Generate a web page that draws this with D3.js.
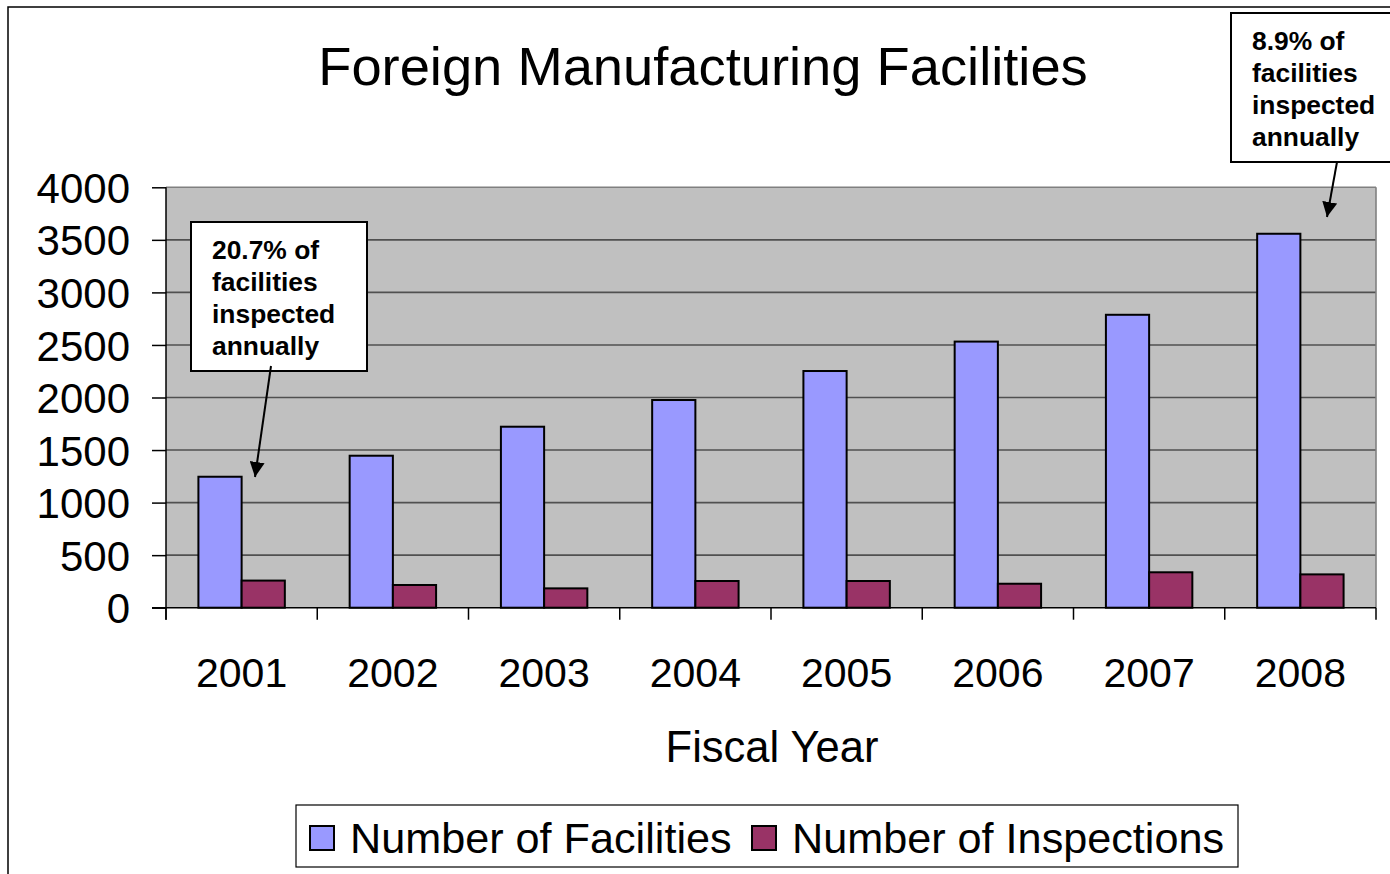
<!DOCTYPE html>
<html><head><meta charset="utf-8">
<script src="https://cdn.jsdelivr.net/npm/d3@7"></script>
<style>html,body{margin:0;padding:0;background:#fff;}svg{display:block;}</style>
</head><body>
<svg id="c" width="1390" height="874"></svg>
<script>
const categories = ["2001","2002","2003","2004","2005","2006","2007","2008"];
const facilities = [1246, 1446, 1722, 1976, 2252, 2532, 2787, 3558];
const inspections = [258, 216, 184, 254, 254, 228, 337, 317];
const seriesNames = ["Number of Facilities", "Number of Inspections"];
const seriesColors = ["#9999ff", "#993366"];
const yTicks = [0, 500, 1000, 1500, 2000, 2500, 3000, 3500, 4000];
const titleText = "Foreign Manufacturing Facilities";
const xTitle = "Fiscal Year";
const note1 = ["20.7% of", "facilities", "inspected", "annually"];
const note2 = ["8.9% of", "facilities", "inspected", "annually"];

const FONT = "'Liberation Sans', Arial, sans-serif";
const svg = d3.select("#c");
const L = 166, R = 1376, T = 187.3, B = 607.7;

svg.append("defs").append("marker")
  .attr("id","ah").attr("viewBox","0 0 10 10").attr("refX",10).attr("refY",5)
  .attr("markerWidth",7.5).attr("markerHeight",7.5).attr("markerUnits","strokeWidth")
  .attr("orient","auto")
  .append("path").attr("d","M0,0 L10,5 L0,10 z").attr("fill","#000");

// outer border
svg.append("rect").attr("x",8).attr("y",7).attr("width",1400).attr("height",900)
  .attr("fill","none").attr("stroke","#000").attr("stroke-width",1.5);

const x0 = d3.scaleBand().domain(categories).range([L, R]).paddingInner(0).paddingOuter(0);
const bw = x0.bandwidth();
const x1 = d3.scaleBand().domain(seriesNames).range([bw*0.75/3.5, bw*2.75/3.5]).padding(0);
const y = d3.scaleLinear().domain([0, 4000]).range([B, T]);

// plot background
svg.append("rect").attr("x",L).attr("y",T).attr("width",R-L).attr("height",B-T)
  .attr("fill","#c0c0c0");
// grid
svg.append("g").selectAll("line").data(yTicks.filter(d=>d>0)).join("line")
  .attr("x1",L).attr("x2",R).attr("y1",d=>y(d)).attr("y2",d=>y(d))
  .attr("stroke", d=> d===4000 ? "#808080" : "#505050").attr("stroke-width",1.6);
svg.append("line").attr("x1",R).attr("x2",R).attr("y1",T).attr("y2",B)
  .attr("stroke","#808080").attr("stroke-width",1.6);

// bars
const data = categories.map((c,i)=>({c, vals:[facilities[i], inspections[i]]}));
const g = svg.append("g");
data.forEach(d=>{
  d.vals.forEach((v,j)=>{
    g.append("rect")
      .attr("x", x0(d.c) + x1(seriesNames[j]))
      .attr("y", y(v))
      .attr("width", x1.bandwidth())
      .attr("height", y(0)-y(v))
      .attr("fill", seriesColors[j]).attr("stroke","#000").attr("stroke-width",2);
  });
});

// y axis
const yAxis = d3.axisLeft(y).tickValues(yTicks).tickSize(14).tickPadding(22).tickFormat(d3.format("d"));
const ya = svg.append("g").attr("transform",`translate(${L},0)`).call(yAxis);
ya.select(".domain").attr("stroke","#000").attr("stroke-width",1.5).attr("d",`M-0,${T}V${B+12}`);
ya.selectAll(".tick line").attr("stroke","#000").attr("stroke-width",1.5);
ya.selectAll(".tick text").attr("font-family",FONT).attr("font-size",42).attr("fill","#000").attr("dy","0.36em");

// x axis
const boundaries = categories.map(c=>x0(c)).concat([R]);
const xg = svg.append("g");
xg.append("line").attr("x1",L-14).attr("x2",R).attr("y1",B).attr("y2",B).attr("stroke","#000").attr("stroke-width",1.5);
xg.selectAll("line.t").data(boundaries).join("line").attr("class","t")
  .attr("x1",d=>d).attr("x2",d=>d).attr("y1",B).attr("y2",B+12).attr("stroke","#000").attr("stroke-width",1.5);
xg.selectAll("text").data(categories).join("text")
  .attr("x",d=>x0(d)+bw/2).attr("y",687).attr("text-anchor","middle")
  .attr("font-family",FONT).attr("font-size",41).text(d=>d);

// titles
svg.append("text").attr("x",703).attr("y",85).attr("text-anchor","middle")
  .attr("font-family",FONT).attr("font-size",54.3).text(titleText);
svg.append("text").attr("x",772).attr("y",762).attr("text-anchor","middle")
  .attr("font-family",FONT).attr("font-size",43.5).text(xTitle);

// legend
svg.append("rect").attr("x",296).attr("y",805).attr("width",942).attr("height",62)
  .attr("fill","#fff").attr("stroke","#000").attr("stroke-width",1.2);
const legX = [310, 752];
seriesNames.forEach((s,j)=>{
  svg.append("rect").attr("x",legX[j]).attr("y",826).attr("width",24).attr("height",24)
    .attr("fill",seriesColors[j]).attr("stroke","#000").attr("stroke-width",2);
  svg.append("text").attr("x",legX[j]+40).attr("y",853).attr("font-family",FONT)
    .attr("font-size",43.2).text(s);
});

// annotations
function note(lines, bx, by, bwid, bh, tx, ty0, ax1, ay1, ax2, ay2){
  svg.append("rect").attr("x",bx).attr("y",by).attr("width",bwid).attr("height",bh)
    .attr("fill","#fff").attr("stroke","#000").attr("stroke-width",2);
  lines.forEach((l,i)=>{
    svg.append("text").attr("x",tx).attr("y",ty0+i*32).attr("font-family",FONT)
      .attr("font-weight","bold").attr("font-size",26.4).text(l);
  });
  svg.append("line").attr("x1",ax1).attr("y1",ay1).attr("x2",ax2).attr("y2",ay2)
    .attr("stroke","#000").attr("stroke-width",2).attr("marker-end","url(#ah)");
}
note(note1, 191, 222, 176, 149, 212, 259, 271, 366, 255, 477);
note(note2, 1231, 13, 170, 149, 1252, 50, 1337, 162, 1327, 217);
</script>
</body></html>
